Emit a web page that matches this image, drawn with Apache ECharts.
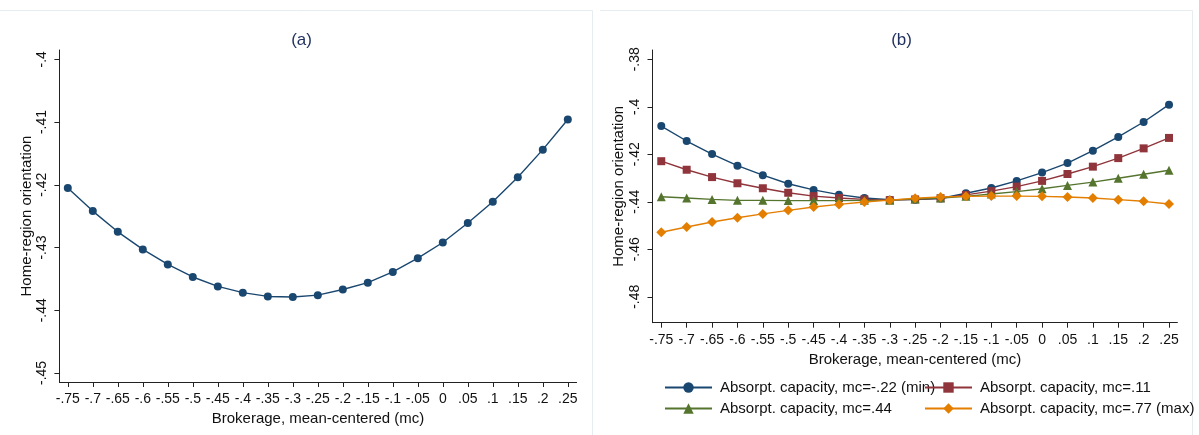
<!DOCTYPE html>
<html>
<head>
<meta charset="utf-8">
<script src="https://cdn.jsdelivr.net/npm/echarts@6/dist/echarts.min.js"></script>
<style>
html,body{margin:0;padding:0;background:#fff;}
#chart{width:1199px;height:435px;}
</style>
</head>
<body>
<div id="chart"></div>
<script>
// ---- data ----
const xValues = [-0.75,-0.7,-0.65,-0.6,-0.55,-0.5,-0.45,-0.4,-0.35,-0.3,-0.25,-0.2,-0.15,-0.1,-0.05,0,0.05,0.1,0.15,0.2,0.25];
const xTickLabels = ['-.75','-.7','-.65','-.6','-.55','-.5','-.45','-.4','-.35','-.3','-.25','-.2','-.15','-.1','-.05','0','.05','.1','.15','.2','.25'];

const yTicksA = [-0.45,-0.44,-0.43,-0.42,-0.41,-0.40];
const yTickLabelsA = ['-.45','-.44','-.43','-.42','-.41','-.4'];
const yTicksB = [-0.48,-0.46,-0.44,-0.42,-0.40,-0.38];
const yTickLabelsB = ['-.48','-.46','-.44','-.42','-.4','-.38'];

const panelA = [-0.4205,-0.4242,-0.4275,-0.4303,-0.4327,-0.4347,-0.4362,-0.4372,-0.4378,-0.4379,-0.4376,-0.4367,-0.4356,-0.4339,-0.4317,-0.4292,-0.4261,-0.4227,-0.4188,-0.4144,-0.4096];

const seriesNames = ['Absorpt. capacity, mc=-.22 (min)','Absorpt. capacity, mc=.11','Absorpt. capacity, mc=.44','Absorpt. capacity, mc=.77 (max)'];
const acMin = [-0.4081,-0.4144,-0.4199,-0.4248,-0.4288,-0.4324,-0.4350,-0.4370,-0.4384,-0.4391,-0.4391,-0.4386,-0.4364,-0.4342,-0.4312,-0.4277,-0.4237,-0.4185,-0.4127,-0.4064,-0.3991];
const ac011 = [-0.4229,-0.4265,-0.4296,-0.4322,-0.4343,-0.4362,-0.4376,-0.4384,-0.4390,-0.4393,-0.4390,-0.4385,-0.4371,-0.4355,-0.4336,-0.4312,-0.4283,-0.4252,-0.4216,-0.4175,-0.4131];
const ac044 = [-0.4379,-0.4384,-0.4390,-0.4394,-0.4394,-0.4395,-0.4395,-0.4395,-0.4394,-0.4393,-0.4388,-0.4384,-0.4377,-0.4367,-0.4357,-0.4345,-0.4331,-0.4317,-0.4301,-0.4284,-0.4267];
const acMax = [-0.4528,-0.4506,-0.4485,-0.4467,-0.4451,-0.4436,-0.4422,-0.4411,-0.4401,-0.4393,-0.4385,-0.4380,-0.4377,-0.4376,-0.4376,-0.4377,-0.4380,-0.4384,-0.4391,-0.4398,-0.4409];

// ---- build ----
const FONT = 'Liberation Sans, Arial, sans-serif';
const colors = ['#1a476f','#90353b','#55752f','#e37e00'];
const symbols = ['circle','rect','triangle','diamond'];
const symSizes = [8,8,9,10];

function pairs(ys){ return xValues.map((x,i)=>[x, ys[i]]); }
function lookup(vals, labels){
  return function(v){
    for (let i=0;i<vals.length;i++){ if (Math.abs(vals[i]-v) < 1e-9) return labels[i]; }
    return '';
  };
}

function xAxisCfg(gridIndex, min, max, nameGap){
  return {
    type:'value', gridIndex, min, max,
    name:'Brokerage, mean-centered (mc)', nameLocation:'middle', nameGap,
    nameTextStyle:{fontFamily:FONT, fontSize:15, color:'#111'},
    axisLine:{show:true, onZero:false, lineStyle:{color:'#222', width:1}},
    axisTick:{show:true, length:5, customValues:xValues, lineStyle:{color:'#222'}},
    axisLabel:{show:true, customValues:xValues, formatter:lookup(xValues, xTickLabels), margin:10,
      fontFamily:FONT, fontSize:14, color:'#111', hideOverlap:false},
    splitLine:{show:false}
  };
}
function yAxisCfg(gridIndex, min, max, ticks, labels, nameGap){
  return {
    type:'value', gridIndex, min, max,
    name:'Home-region orientation', nameLocation:'middle', nameGap,
    nameTextStyle:{fontFamily:FONT, fontSize:15, color:'#111'},
    axisLine:{show:true, onZero:false, lineStyle:{color:'#222', width:1}},
    axisTick:{show:true, length:5, customValues:ticks, lineStyle:{color:'#222'}},
    axisLabel:{show:true, customValues:ticks, formatter:lookup(ticks, labels), rotate:90, margin:10,
      fontFamily:FONT, fontSize:14, color:'#111', hideOverlap:false},
    splitLine:{show:false}
  };
}

const series = [{
  type:'line', xAxisIndex:0, yAxisIndex:0, data:pairs(panelA),
  symbol:'circle', symbolSize:8, showSymbol:true,
  lineStyle:{color:colors[0], width:1.4}, itemStyle:{color:colors[0]},
  animation:false, z:2
}];
[acMin, ac011, ac044, acMax].forEach((ys,i)=>{
  series.push({
    type:'line', name:seriesNames[i], xAxisIndex:1, yAxisIndex:1, data:pairs(ys),
    symbol:symbols[i], symbolSize:symSizes[i], showSymbol:true,
    lineStyle:{color:colors[i], width:1.4}, itemStyle:{color:colors[i]},
    animation:false, z:2+i
  });
});

const legendPos = [[664,380],[924,380],[664,401],[924,401]];
const legends = seriesNames.map((n,i)=>({
  data:[n], left:legendPos[i][0], top:legendPos[i][1], padding:0,
  itemWidth:47, itemHeight:13, selectedMode:false,
  textStyle:{fontFamily:FONT, fontSize:15, color:'#111', padding:[0,0,0,3]}
}));

const option = {
  backgroundColor:'#fff',
  animation:false,
  title:[
    {text:'(a)', left:296.6, top:27, textAlign:'center',
     textStyle:{fontFamily:FONT, fontSize:17, fontWeight:'normal', color:'#1f2f5f'}},
    {text:'(b)', left:896.6, top:27, textAlign:'center',
     textStyle:{fontFamily:FONT, fontSize:17, fontWeight:'normal', color:'#1f2f5f'}}
  ],
  grid:[
    {left:59.4, top:50, width:517.2, height:332, containLabel:false},
    {left:652.5, top:50, width:524.9, height:272.7, containLabel:false}
  ],
  xAxis:[ xAxisCfg(0, -0.7668, 0.2676, 28), xAxisCfg(1, -0.7673, 0.2665, 30) ],
  yAxis:[ yAxisCfg(0, -0.45144, -0.39852, yTicksA, yTickLabelsA, 25),
          yAxisCfg(1, -0.49091, -0.37608, yTicksB, yTickLabelsB, 26) ],
  legend:legends,
  series,
  graphic:[
    {type:'line', shape:{x1:0,y1:10.5,x2:592.5,y2:10.5}, style:{stroke:'#e6edf0', lineWidth:1}, silent:true},
    {type:'line', shape:{x1:592.5,y1:10.5,x2:592.5,y2:435}, style:{stroke:'#e6edf0', lineWidth:1}, silent:true},
    {type:'line', shape:{x1:600,y1:10.5,x2:1192.5,y2:10.5}, style:{stroke:'#e6edf0', lineWidth:1}, silent:true},
    {type:'line', shape:{x1:1192.5,y1:10.5,x2:1192.5,y2:435}, style:{stroke:'#e6edf0', lineWidth:1}, silent:true}
  ]
};

const chart = echarts.init(document.getElementById('chart'), null, {renderer:'canvas'});
chart.setOption(option);
</script>
</body>
</html>
